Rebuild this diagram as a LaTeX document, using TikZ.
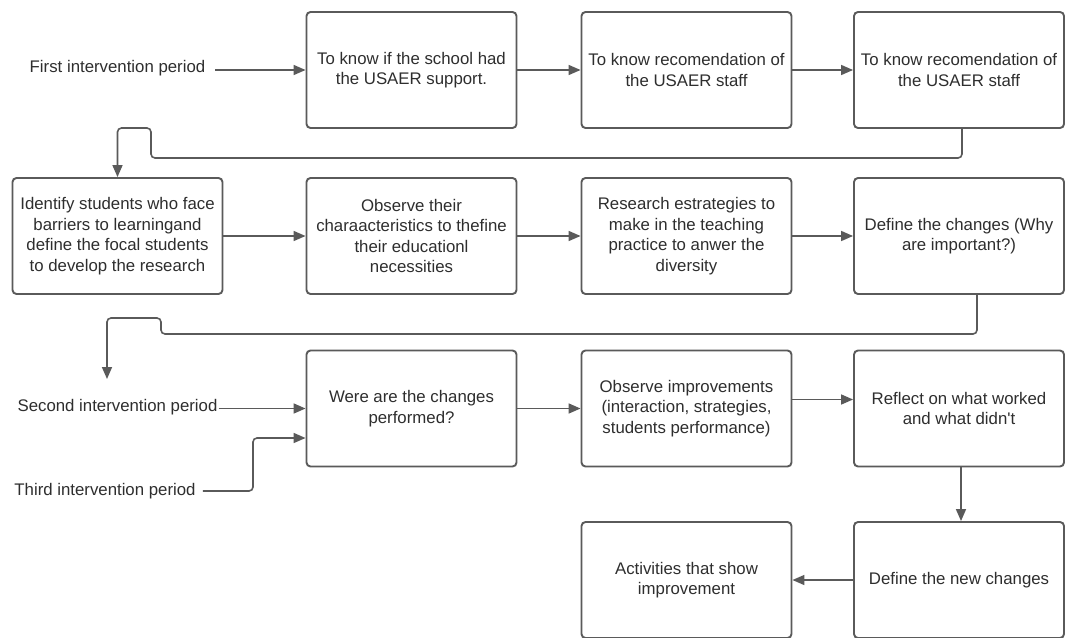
\documentclass[tikz,border=0pt]{standalone}
\usepackage{fontspec}
\setmainfont{Liberation Sans}[Ligatures=TeXOff]
\usetikzlibrary{arrows.meta}
\definecolor{linegray}{HTML}{5A5A5A}
\definecolor{textgray}{HTML}{2E2E2E}
\begin{document}
\begin{tikzpicture}[x=1pt,y=-1pt,
  every node/.style={font=\fontsize{16.8pt}{20.5pt}\selectfont, text=textgray},
  box/.style={draw=linegray, line width=1.9pt, rounded corners=4pt, fill=white,
    minimum width=210pt, minimum height=116pt, align=center, inner sep=2pt},
  lbl/.style={inner sep=1pt, anchor=center},
  conn/.style={draw=linegray, line width=1.6pt, rounded corners=4pt,
    -{Triangle[length=12pt,width=10pt]}}]
\useasboundingbox (0,0) rectangle (1065,637);
\fill[white] (0,0) rectangle (1065,637);

% row 1
\node[box] (A) at (411.5,70) {To know if the school had\\the USAER support.};
\node[box] (B) at (686.5,70) {To know recomendation of\\the USAER staff};
\node[box] (C) at (959,70) {To know recomendation of\\the USAER staff};
% row 2
\node[box] (D) at (117.5,236) {Identify students who face\\barriers to learningand\\define the focal students\\to develop the research};
\node[box] (E) at (411.5,236) {Observe their\\charaacteristics to thefine\\their educationl\\necessities};
\node[box] (F) at (686.5,236) {Research estrategies to\\make in the teaching\\practice to anwer the\\diversity};
\node[box] (G) at (959,236) {Define the changes (Why\\are important?)};
% row 3
\node[box] (H) at (411.5,408.5) {Were are the changes\\performed?};
\node[box] (I) at (686.5,408.5) {Observe improvements\\(interaction, strategies,\\students performance)};
\node[box] (J) at (959,408.5) {Reflect on what worked\\and what didn't};
% row 4
\node[box] (K) at (686.5,580) {Activities that show\\improvement};
\node[box] (L) at (959,580) {Define the new changes};

% labels
\node[lbl] (p1) at (117.5,68) {First intervention period};
\node[lbl] (p2) at (117.5,407) {Second intervention period};
\node[lbl] (p3) at (105,491) {Third intervention period};
\coordinate (p2top) at (107,379);

% connectors
\draw[conn] ([xshift=9pt]p1.east |- A.west) -- (A.west);
\draw[conn] (A.east) -- (B.west);
\draw[conn] (B.east) -- (C.west);
\draw[conn] ([xshift=3pt]C.south) |- (151,158) -- (151,128) -| (D.north);
\draw[conn] (D.east) -- (E.west);
\draw[conn] (E.east) -- (F.west);
\draw[conn] (F.east) -- (G.west);
\draw[conn] ([xshift=18pt]G.south) |- (161,334) -- (161,318) -| (p2top);
\draw[conn] (p2.east |- H.west) -- (H.west);
\draw[conn] ([xshift=6pt]p3.east) -| (253,438) -- (H.west |- 0,438);
\draw[conn] (H.east) -- (I.west);
\draw[conn] ([yshift=9pt]I.east) -- ([yshift=9pt]J.west);
\draw[conn] ([xshift=2pt]J.south) -- ([xshift=2pt]L.north);
\draw[conn] (L.west) -- (K.east);
\end{tikzpicture}
\end{document}
